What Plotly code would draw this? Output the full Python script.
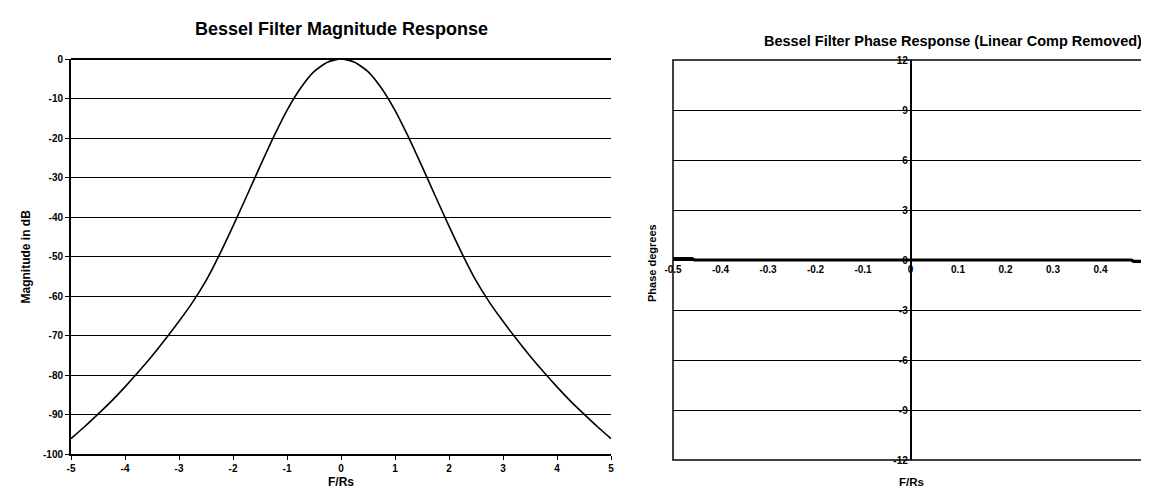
import plotly.graph_objects as go

# ---- data ----
mag_f = [-5.0, -4.75, -4.5, -4.25, -4.0, -3.75, -3.5, -3.25, -3.0, -2.75, -2.5, -2.25, -2.0,
         -1.75, -1.5, -1.25, -1.0, -0.75, -0.5, -0.25, 0.0, 0.25, 0.5, 0.75, 1.0, 1.25, 1.5,
         1.75, 2.0, 2.25, 2.5, 2.75, 3.0, 3.25, 3.5, 3.75, 4.0, 4.25, 4.5, 4.75, 5.0]
mag_db = [-96.1, -93.1, -89.9, -86.6, -83.0, -79.2, -75.2, -70.9, -66.4, -61.6, -56.1, -49.5, -42.3,
          -34.8, -27.2, -19.8, -13.0, -7.4, -3.2, -0.8, 0.0, -0.8, -3.2, -7.4, -13.0, -19.8, -27.2,
          -34.8, -42.3, -49.5, -56.1, -61.6, -66.4, -70.9, -75.2, -79.2, -83.0, -86.6, -89.9, -93.1, -96.1]

phase_f = [-0.5, -0.46, -0.455, 0.0, 0.465, 0.47, 0.5]
phase_deg = [0.08, 0.08, 0.0, 0.0, 0.0, -0.08, -0.08]

mag_yticks = [0, -10, -20, -30, -40, -50, -60, -70, -80, -90, -100]
mag_xticks = [-5, -4, -3, -2, -1, 0, 1, 2, 3, 4, 5]
ph_yticks = [12, 9, 6, 3, 0, -3, -6, -9, -12]
ph_xticks = [-0.5, -0.4, -0.3, -0.2, -0.1, 0, 0.1, 0.2, 0.3, 0.4, 0.5]
ph_xlabels = ["-0.5", "-0.4", "-0.3", "-0.2", "-0.1", "0", "0.1", "0.2", "0.3", "0.4", "0.5"]

W, H = 1149, 489
FONT = "Liberation Sans, Arial, sans-serif"

# pixel layout -> paper fractions
L1 = (63 / W, 603 / W)
Y1 = (1 - 446 / H, 1 - 51 / H)
L2 = (665 / W, 1140 / W)
Y2 = (1 - 452 / H, 1 - 52 / H)

fig = go.Figure()
fig.add_trace(go.Scatter(x=mag_f, y=mag_db, mode="lines", line=dict(color="black", width=1.6, shape="spline", smoothing=0.6),
                         xaxis="x", yaxis="y", showlegend=False, hoverinfo="x+y"))
fig.add_trace(go.Scatter(x=phase_f, y=phase_deg, mode="lines", line=dict(color="black", width=3.2),
                         xaxis="x2", yaxis="y2", showlegend=False, hoverinfo="x+y"))

tickfont = dict(family=FONT, size=10, color="black", weight="bold")


def ann(text, x, y, size, angle=0):
    return dict(text="<b>" + text + "</b>", x=x, y=y, xref="paper", yref="paper",
                xanchor="center", yanchor="middle", showarrow=False, textangle=angle,
                font=dict(family=FONT, size=size, color="black"))


fig.update_layout(
    width=W, height=H,
    margin=dict(l=0, r=0, t=0, b=0),
    paper_bgcolor="white", plot_bgcolor="white",
    xaxis=dict(domain=list(L1), anchor="y", range=[-5, 5], tickvals=mag_xticks,
               ticktext=[str(v) for v in mag_xticks], showgrid=False, zeroline=False,
               showline=True, linecolor="black", linewidth=2, ticks="outside", ticklen=4,
               tickcolor="black", tickfont=tickfont, automargin=False),
    yaxis=dict(domain=list(Y1), anchor="x", range=[-100, 0], tickvals=mag_yticks,
               ticktext=[str(v) for v in mag_yticks], showgrid=True, gridcolor="black", gridwidth=1,
               zeroline=True, zerolinecolor="black", zerolinewidth=2,
               showline=True, linecolor="black", linewidth=2, ticks="outside", ticklen=4,
               tickcolor="black", tickfont=tickfont, automargin=False),
    xaxis2=dict(domain=list(L2), anchor="free", position=(Y2[0] + Y2[1]) / 2, range=[-0.5, 0.5],
                tickvals=ph_xticks, ticktext=ph_xlabels, ticklabeloverflow="allow",
                showgrid=False, zeroline=False, showline=True, linecolor="black", linewidth=1,
                ticks="", tickfont=tickfont, automargin=False),
    yaxis2=dict(domain=list(Y2), anchor="free", position=(L2[0] + L2[1]) / 2, range=[-12, 12],
                tickvals=ph_yticks, ticktext=[str(v) for v in ph_yticks],
                showgrid=True, gridcolor="black", gridwidth=1, zeroline=False,
                showline=True, linecolor="black", linewidth=1.5, ticks="", tickfont=tickfont,
                automargin=False),
    shapes=[dict(type="rect", xref="x2 domain", yref="y2 domain", x0=0, x1=1, y0=0, y1=1,
                 line=dict(color="black", width=1.5), layer="above")],
    annotations=[
        ann("Bessel Filter Magnitude Response", (L1[0] + L1[1]) / 2, 1 - 21 / H, 18),
        ann("Bessel Filter Phase Response (Linear Comp Removed)", 945 / W, 1 - 33 / H, 14.5),
        ann("Magnitude in dB", 17 / W, (Y1[0] + Y1[1]) / 2, 12, -90),
        ann("F/Rs", (L1[0] + L1[1]) / 2, 1 - 474 / H, 12),
        ann("Phase degrees", 644 / W, 1 - 255 / H, 11, -90),
        ann("F/Rs", 903 / W, 1 - 474 / H, 11.5),
    ],
)

fig.write_html("out.html", config={"displayModeBar": False})
